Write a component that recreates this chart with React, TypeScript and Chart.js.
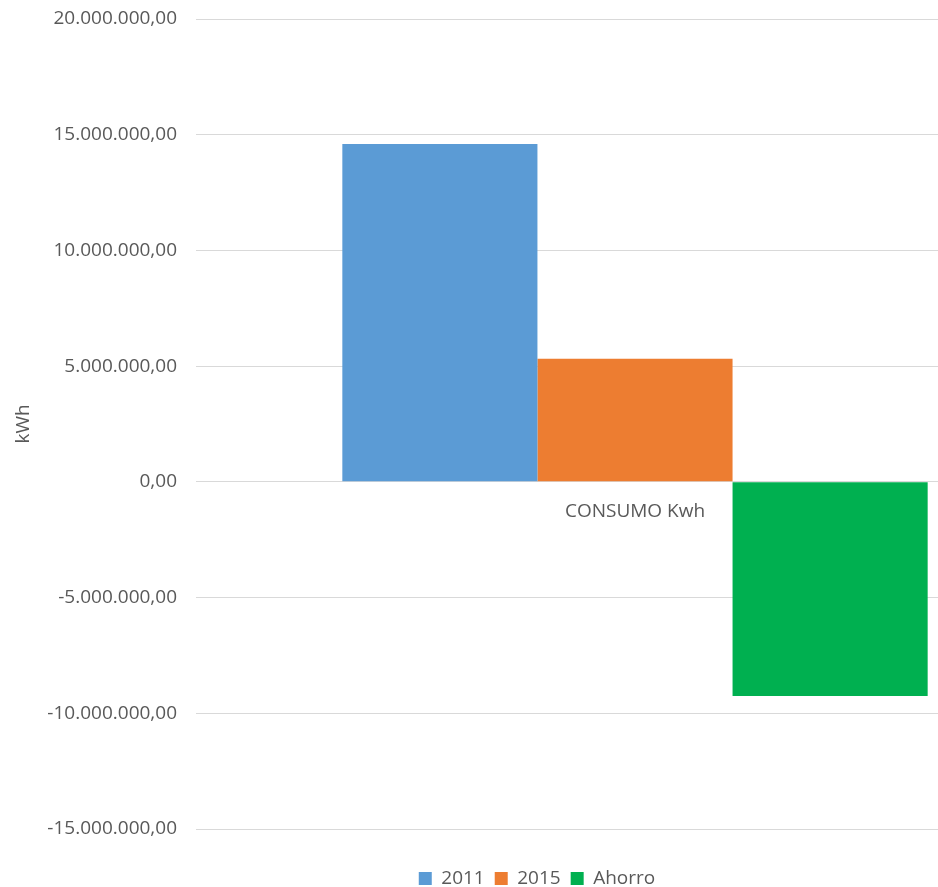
import React, { useEffect, useRef } from "react";
import { Chart, registerables } from "chart.js";

Chart.register(...registerables);

const categories = ["CONSUMO Kwh"];
const seriesNames = ["2011", "2015", "Ahorro"];
const values2011 = [14600000];
const values2015 = [5320000];
const valuesAhorro = [-9250000];
const seriesColors = ["#5B9BD5", "#ED7D31", "#00B050"];
const yMin = -15000000;
const yMax = 20000000;
const yStep = 5000000;
const yTitle = "kWh";

const FONT = "'Open Sans', 'Noto Sans', sans-serif";
const FS = 19;

function fmt(v: number): string {
  const neg = v < 0;
  const abs = Math.abs(v);
  const int = Math.floor(abs).toString().replace(/\B(?=(\d{3})+(?!\d))/g, ".");
  return (neg ? "-" : "") + int + ",00";
}

export default function App() {
  const ref = useRef<HTMLCanvasElement | null>(null);

  useEffect(() => {
    if (!ref.current) return;
    const chart = new Chart(ref.current, {
      type: "bar",
      data: {
        labels: categories,
        datasets: [
          { label: seriesNames[0], data: values2011, backgroundColor: seriesColors[0], xAxisID: "x", yAxisID: "y" },
          { label: seriesNames[1], data: values2015, backgroundColor: seriesColors[1], xAxisID: "x", yAxisID: "y" },
          { label: seriesNames[2], data: valuesAhorro, backgroundColor: seriesColors[2], xAxisID: "x", yAxisID: "y" },
        ],
      },
      options: {
        responsive: false,
        animation: false,
        maintainAspectRatio: false,
        layout: { padding: { left: 0, right: 13, top: 19, bottom: 0 } },
        datasets: { bar: { categoryPercentage: 2 / 3, barPercentage: 1 } },
        plugins: {
          tooltip: { enabled: false },
          legend: {
            position: "bottom",
            labels: {
              boxWidth: 13,
              boxHeight: 13,
              padding: 10,
              color: "#595959",
              font: { family: FONT, size: FS },
            },
          },
        },
        scales: {
          x: {
            position: { y: 0 } as any,
            grid: { display: false, drawTicks: false },
            border: { display: true, color: "#d9d9d9" },
            ticks: {
              color: "#595959",
              padding: 18,
              font: { family: FONT, size: FS },
            },
          },
          xSpacer: {
            type: "category",
            axis: "x",
            position: "bottom",
            afterFit: (s: any) => {
              s.height = 30;
            },
            grid: { display: false, drawTicks: false },
            border: { display: false },
            ticks: { display: false },
          } as any,
          y: {
            min: yMin,
            max: yMax,
            afterFit: (s: any) => {
              s.width = 196;
              s.paddingTop = 0;
              s.paddingBottom = 0;
            },
            ticks: {
              stepSize: yStep,
              color: "#595959",
              padding: 19,
              font: { family: FONT, size: FS },
              callback: (v: any) => fmt(Number(v)),
            },
            grid: { color: "#d9d9d9", lineWidth: 1, drawTicks: false },
            border: { display: false },
            title: {
              display: true,
              text: yTitle,
              color: "#595959",
              font: { family: FONT, size: FS },
              padding: { top: 12, bottom: 0 },
            },
          },
        },
      },
    });
    return () => chart.destroy();
  }, []);

  return (
    <div
      style={{
        position: "fixed",
        left: 0,
        top: 0,
        width: 938,
        height: 887,
        overflow: "hidden",
        background: "#fff",
      }}
    >
      <canvas ref={ref} width={1087} height={898} style={{ display: "block" }} />
    </div>
  );
}
